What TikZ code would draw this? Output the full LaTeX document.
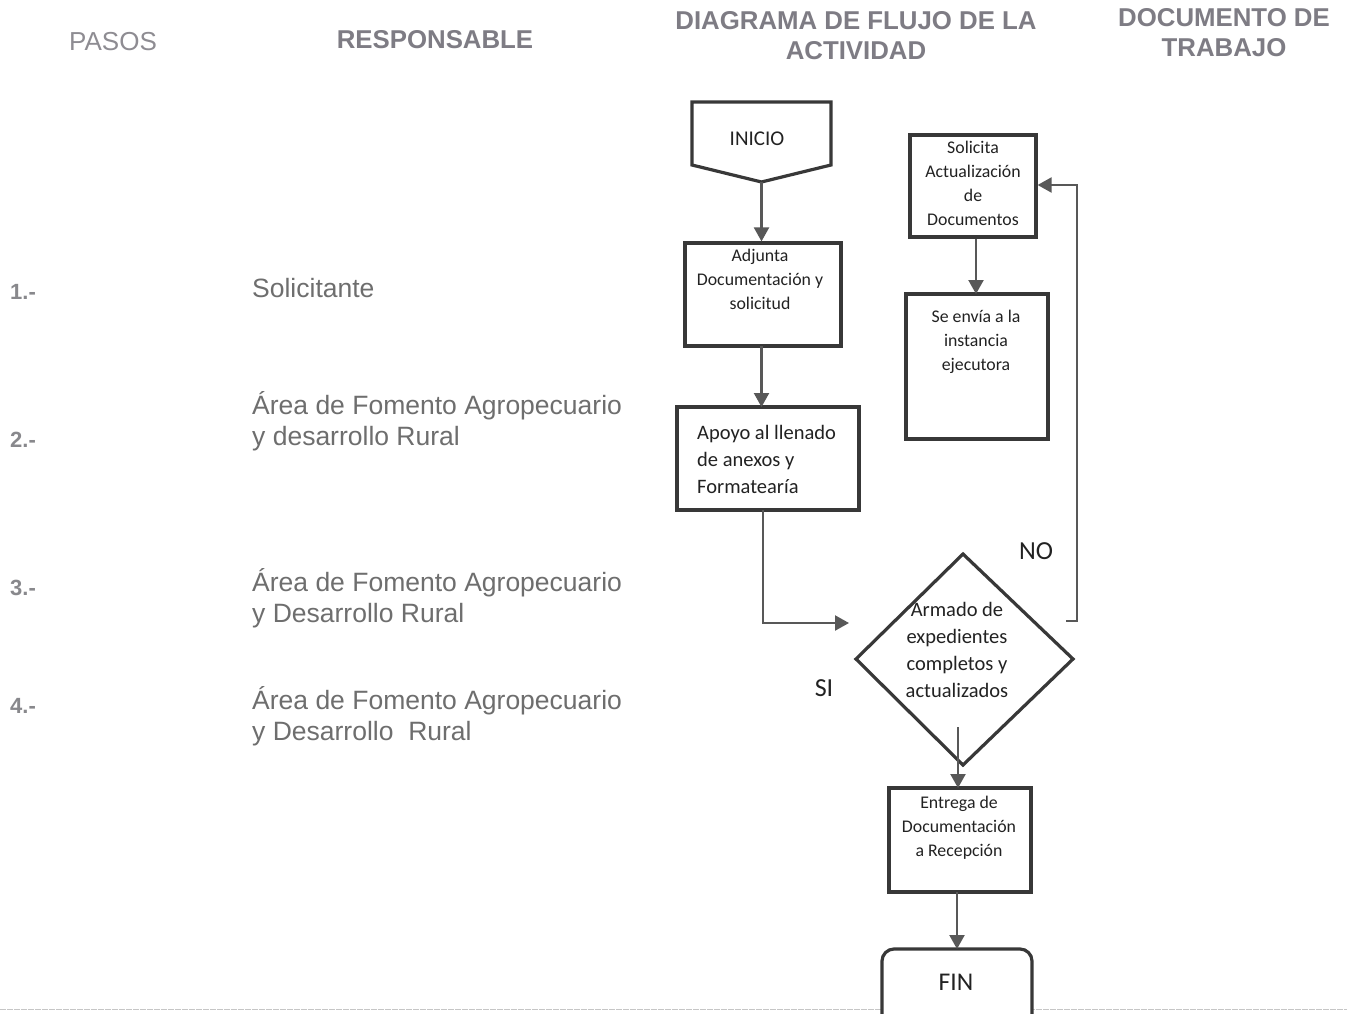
\documentclass[tikz,border=0pt]{standalone}
\usepackage{fontspec}
\setmainfont{Liberation Sans}
\newfontfamily\calib{Carlito}
\usetikzlibrary{arrows.meta,calc}
\definecolor{hdr}{HTML}{7E7C84}
\definecolor{hdrl}{HTML}{8E8C92}
\definecolor{lefttxt}{HTML}{6E6E6E}
\definecolor{numtxt}{HTML}{88888C}
\definecolor{boxline}{HTML}{383838}
\definecolor{arrline}{HTML}{585858}
\definecolor{boxtxt}{HTML}{222222}
\tikzset{
  stepbox/.style={draw=boxline, line width=3.2pt, fill=white, inner sep=0pt},
  flowtxt/.style={font=\calib\fontsize{17.8}{24}\selectfont, text=boxtxt, align=center, inner sep=0pt},
  bigtxt/.style={font=\calib\fontsize{20.5}{27}\selectfont, text=boxtxt, inner sep=0pt},
  conn/.style={draw=arrline, line width=2.2pt, -{Triangle[width=15pt,length=14pt]}},
  hdrtxt/.style={font=\bfseries\fontsize{25.8}{30}\selectfont, text=hdr, align=center, inner sep=0pt},
  resp/.style={font=\fontsize{26.5}{31}\selectfont, text=lefttxt, align=left, anchor=west, inner sep=0pt},
  num/.style={font=\bfseries\fontsize{22}{26}\selectfont, text=numtxt, anchor=west, inner sep=0pt}
}
\begin{document}
\begin{tikzpicture}[x=1pt,y=-1pt]
\useasboundingbox (0,0) rectangle (1347,1014);
\clip (0,0) rectangle (1347,1014);
\fill[white] (0,0) rectangle (1347,1014);

% headers
\node[font=\fontsize{26}{30}\selectfont, text=hdrl, inner sep=0pt] (hpasos) at (113,42) {PASOS};
\node[hdrtxt] (hresp) at (435,40) {RESPONSABLE};
\node[hdrtxt] (hdiag) at (856,36) {DIAGRAMA DE FLUJO DE LA\\ACTIVIDAD};
\node[hdrtxt] (hdoc) at (1224,33) {DOCUMENTO DE\\TRABAJO};

% steps
\node[num] (n1) at (10,292) {1.-};
\node[num] (n2) at (10,440) {2.-};
\node[num] (n3) at (10,588) {3.-};
\node[num] (n4) at (10,706) {4.-};
\node[resp] (r1) at (252,288) {Solicitante};
\node[resp] (r2) at (252,421) {Área de Fomento Agropecuario\\y desarrollo Rural};
\node[resp] (r3) at (252,598) {Área de Fomento Agropecuario\\y Desarrollo Rural};
\node[resp] (r4) at (252,716) {Área de Fomento Agropecuario\\y Desarrollo\ \ Rural};

% bottom faint line
\draw[gray!45, line width=1pt, dash pattern=on 6pt off 1pt] (0,1009) -- (1347,1009);

% INICIO (off-page connector)
\draw[draw=boxline, line width=3.2pt, fill=white, line join=miter]
  (692,102) -- (831,102) -- (831,165) -- (761.5,182) -- (692,165) -- cycle;
\coordinate (iniciotip) at (761.5,182);
\node[font=\calib\fontsize{21}{24}\selectfont, text=boxtxt, inner sep=0pt] (inicio) at (757,139) {INICIO};

% boxes
\node[stepbox, minimum width=156pt, minimum height=103pt] (adj) at (763,294.5) {};
\node[flowtxt] (adjt) at (760,279) {Adjunta\\Documentación y\\solicitud};

\node[stepbox, minimum width=182pt, minimum height=103pt] (apoyo) at (768,458.5) {};
\node[bigtxt, align=left, anchor=west] (apoyot) at (697,459) {Apoyo al llenado\\de anexos y\\Formatearía};

\node[stepbox, minimum width=126pt, minimum height=102pt] (sol) at (973,186) {};
\node[flowtxt] (solt) at (973,183.5) {Solicita\\Actualización\\de\\Documentos};

\node[stepbox, minimum width=142pt, minimum height=145pt] (env) at (977,366.5) {};
\node[flowtxt] (envt) at (976,342) {Se envía a la\\instancia\\ejecutora};

% diamond
\draw[draw=boxline, line width=3.2pt, fill=white, line join=miter]
  (963,554) -- (1073,659) -- (963,765) -- (856,659) -- cycle;
\coordinate (dtop) at (963,554);
\coordinate (dleft) at (856,659);
\coordinate (dright) at (1073,659);
\coordinate (dbottom) at (963,765);
\node[bigtxt, align=center] (dtxt) at (957,650) {Armado de\\expedientes\\completos y\\actualizados};

\node[stepbox, minimum width=142pt, minimum height=104pt] (ent) at (960,840) {};
\node[flowtxt] (entt) at (959,828) {Entrega de\\Documentación\\a Recepción};

\node[stepbox, rounded corners=12pt, minimum width=150pt, minimum height=80pt] (fin) at (957,989) {};
\node[font=\calib\fontsize{25.5}{28}\selectfont, text=boxtxt, inner sep=0pt] (fint) at (956,982) {FIN};

% labels
\node[font=\calib\fontsize{26}{28}\selectfont, text=boxtxt, inner sep=0pt] (no) at (1036,551) {NO};
\node[font=\calib\fontsize{26}{28}\selectfont, text=boxtxt, inner sep=0pt] (si) at (824,688) {SI};

% connectors
\draw[conn] (iniciotip) -- (iniciotip |- adj.north);
\draw[conn] (761.5,346) -- (761.5,407);
\draw[conn] (sol.south -| 976,0) -- (976,294);
\coordinate (apoyoout) at (763,510);
\coordinate (dinarrow) at (849,623);
\draw[conn] (apoyoout) |- (dinarrow);
\coordinate (noout) at (1066,621);
\draw[conn] (noout) -- (1077,621) |- (sol.east |- 0,185);
\coordinate (dinside) at (958,727);
\draw[conn] (dinside) -- (958,788);
\draw[conn] (957,892) -- (957,949);
\end{tikzpicture}
\end{document}
